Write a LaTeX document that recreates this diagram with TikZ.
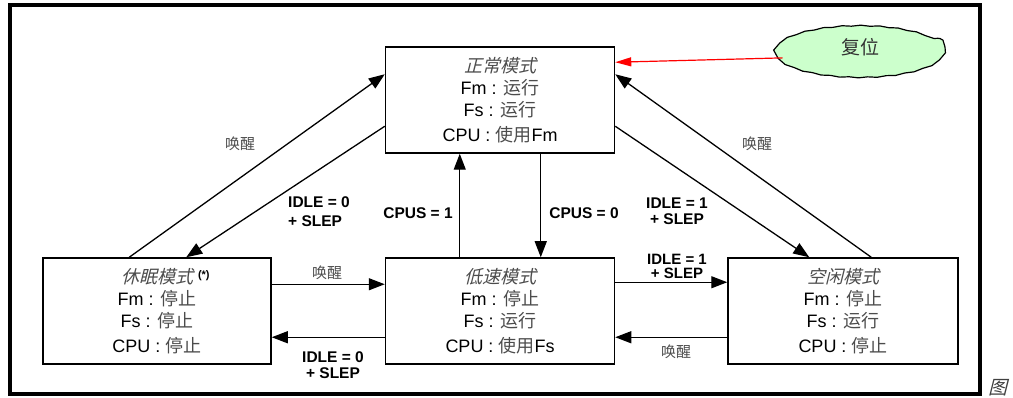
\documentclass[tikz,border=0pt]{standalone}
\usepackage{fontspec}
\setmainfont{Liberation Sans}
\newfontfamily\cjk{Noto Sans CJK SC}
\newfontfamily\cjkit{Noto Sans CJK SC}[FakeSlant=0.25]
\usetikzlibrary{arrows.meta,calc,shapes.geometric,decorations.pathmorphing}
\definecolor{cjkgray}{gray}{0.3}
\definecolor{resetgreen}{HTML}{CCFFCC}
\newcommand{\zh}[1]{{\cjk\color{cjkgray}#1}}
\newcommand{\ttl}[1]{{\cjkit\color{cjkgray}#1}}
\tikzset{
  modebox/.style={draw, line width=1.5pt, minimum width=229pt, minimum height=106pt,
    inner sep=0pt, align=center, font=\fontsize{18}{22}\selectfont},
  conn/.style={line width=1.3pt, -{Triangle[length=16pt,width=12pt]}},
  lbl/.style={font=\fontsize{15.5}{16}\selectfont\bfseries, inner sep=0pt},
  wk/.style={font=\fontsize{15}{15}\selectfont\cjk, text=cjkgray, inner sep=0pt}
}
\begin{document}
\begin{tikzpicture}[x=1pt,y=-1pt]
\useasboundingbox (0,0) rectangle (1013,398);
\draw[line width=4pt] (10,5) rectangle (980,394);

% mode boxes
\node[modebox] (normal) at (500,100) {\ttl{正常模式}\\ Fm : \zh{运行}\\ Fs : \zh{运行}\\[3pt] CPU : \zh{使用}Fm};
\node[modebox, minimum width=228pt] (sleep) at (157,311) {\ttl{休眠模式}\rlap{\hspace{5pt}\raisebox{5pt}{\fontsize{11}{11}\selectfont\bfseries (*)}}\\ Fm : \zh{停止}\\ Fs : \zh{停止}\\[3pt] CPU : \zh{停止}};
\node[modebox] (low) at (500,311) {\ttl{低速模式}\\ Fm : \zh{停止}\\ Fs : \zh{运行}\\[3pt] CPU : \zh{使用}Fs};
\node[modebox, minimum width=230pt] (idle) at (843,311) {\ttl{空闲模式}\\ Fm : \zh{停止}\\ Fs : \zh{运行}\\[3pt] CPU : \zh{停止}};

% reset ellipse
\draw[line width=1.2pt, fill=resetgreen, decorate, decoration={snake, amplitude=0.45pt, segment length=18.7pt}]
  (860,47) ellipse [x radius=85, y radius=26];
\node[ellipse, minimum width=170pt, minimum height=52pt, inner sep=0pt,
  font=\fontsize{19}{19}\selectfont\cjk, text=black!80] (reset) at (860,47) {复位};

% connectors
\draw[conn, red, line width=1.2pt, -{Triangle[length=16pt,width=9pt]}]
  (reset.188) -- ($(normal.north east)+(0,16)$);
\draw[conn] ($(sleep.north west)+(87,0)$) -- ($(normal.north west)+(0,28)$);
\draw[conn] ($(normal.north west)+(0,80)$) -- ($(sleep.north west)+(144,0)$);
\draw[conn] ($(normal.north east)+(0,80)$) -- ($(idle.north west)+(82,0)$);
\draw[conn] ($(idle.north west)+(144,0)$) -- ($(normal.north east)+(0,28)$);
\draw[conn] ($(low.north west)+(75,0)$) -- ($(normal.south west)+(75,0)$);
\draw[conn] ($(normal.south west)+(156,0)$) -- ($(low.north west)+(156,0)$);
\draw[conn] ($(sleep.north east)+(0,27)$) -- ($(low.north west)+(0,27)$);
\draw[conn] ($(low.north west)+(0,80)$) -- ($(sleep.north east)+(0,80)$);
\draw[conn] ($(low.north east)+(0,25)$) -- ($(idle.north west)+(0,25)$);
\draw[conn] ($(idle.north west)+(0,80)$) -- ($(low.north east)+(0,80)$);

% labels
\node[wk] (w1) at (240,144) {唤醒};
\node[wk] (w2) at (757,144) {唤醒};
\node[wk] (w3) at (327,273) {唤醒};
\node[wk] (w4) at (676,352) {唤醒};
\node[lbl, align=left, anchor=west, font=\fontsize{15.5}{19}\selectfont\bfseries] (i0a) at (288,212) {IDLE = 0\\+ SLEP};
\node[lbl, align=center] (i1a) at (677,211) {IDLE = 1\\+ SLEP};
\node[lbl, align=center] (i0b) at (333,365) {IDLE = 0\\+ SLEP};
\node[lbl, align=center, font=\fontsize{15}{14}\selectfont\bfseries] (i1b) at (677,266) {IDLE = 1\\+ SLEP};
\node[lbl] (c1) at (418,213) {CPUS = 1};
\node[lbl] (c0) at (584,213) {CPUS = 0};

\node[font=\fontsize{19}{19}\selectfont\cjkit, text=black!75, inner sep=0pt] (fig) at (998,388) {图};
\end{tikzpicture}
\end{document}
